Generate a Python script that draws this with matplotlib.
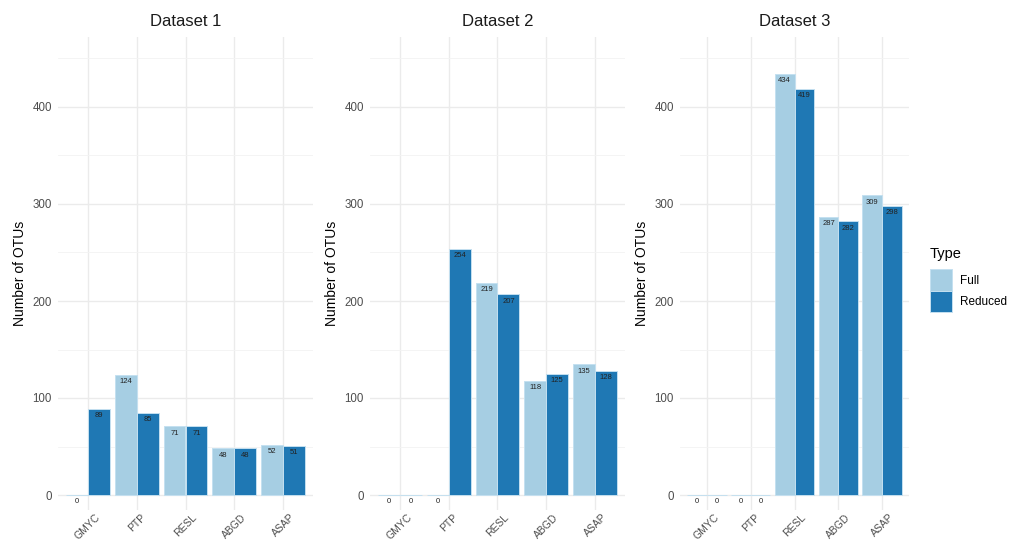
import matplotlib
matplotlib.use("Agg")
import matplotlib.pyplot as plt
from matplotlib.patches import Patch
import numpy as np

plt.rcParams["font.family"] = ["Liberation Sans", "DejaVu Sans"]

methods = ["GMYC", "PTP", "RESL", "ABGD", "ASAP"]
datasets = ["Dataset 1", "Dataset 2", "Dataset 3"]
types = ["Full", "Reduced"]

full_d1 = [0, 124, 71, 48, 52]
reduced_d1 = [89, 85, 71, 48, 51]
full_d2 = [0, 0, 219, 118, 135]
reduced_d2 = [0, 254, 207, 125, 128]
full_d3 = [0, 0, 434, 287, 309]
reduced_d3 = [0, 0, 419, 282, 298]

series = [(full_d1, reduced_d1), (full_d2, reduced_d2), (full_d3, reduced_d3)]
colors = {"Full": "#a6cee3", "Reduced": "#1f78b4"}
edge = "#c4e0f0"

W, H = 1018, 543
fig = plt.figure(figsize=(W / 100, H / 100), dpi=100)
fig.patch.set_facecolor("white")

# panel extents in pixels (left, right); shared vertical extent
panels_px = [(58, 313), (370, 625), (680, 909)]
top_px, bot_px = 37, 510
px_per_unit = 0.97
zero_px = 495
y_lo = -(bot_px - zero_px) / px_per_unit
y_hi = (zero_px - top_px) / px_per_unit

x = np.arange(len(methods))
bw = 0.45
for (l, r), name, (full, red) in zip(panels_px, datasets, series):
    ax = fig.add_axes([l / W, 1 - bot_px / H, (r - l) / W, (bot_px - top_px) / H])
    ax.set_xlim(-0.61, 4.61)
    ax.set_ylim(y_lo, y_hi)
    for s in ax.spines.values():
        s.set_visible(False)
    ax.set_yticks([0, 100, 200, 300, 400])
    ax.set_yticks([50, 150, 250, 350, 450], minor=True)
    ax.set_xticks(x)
    ax.grid(True, which="major", color="#ebebeb", lw=1.0)
    ax.grid(True, which="minor", axis="y", color="#f3f3f3", lw=0.6)
    ax.set_axisbelow(True)
    ax.tick_params(which="both", length=0)
    ax.tick_params(axis="y", labelsize=8.3, labelcolor="#4d4d4d", pad=4.3)
    ax.set_xticklabels(methods, rotation=45, ha="center", va="top",
                       fontsize=7.5, color="#4d4d4d")
    ax.tick_params(axis="x", pad=1.5)
    for off, vals, t in [(-bw / 2, full, "Full"), (bw / 2, red, "Reduced")]:
        ax.bar(x + off, vals, width=bw, color=colors[t],
               edgecolor=edge, linewidth=0.7, zorder=2)
        for xi, v in zip(x + off, vals):
            ax.annotate(f"{v}", (xi, v), xytext=(0, -2.5), textcoords="offset points",
                        ha="center", va="top", fontsize=5.5, color="#222222", zorder=3)
    ax.set_ylabel("Number of OTUs", fontsize=10, color="black", labelpad=4.3)
    ax.set_title(name, fontsize=12, color="#1a1a1a", pad=8)

handles = [Patch(facecolor=colors[t], edgecolor=edge, linewidth=0.7) for t in types]
leg = fig.legend(handles, types, title="Type", loc="upper left",
                 bbox_to_anchor=(930 / W, 1 - 247 / H), frameon=False,
                 fontsize=8.5, title_fontsize=10.5, handlelength=1.9, handleheight=2.4,
                 handletextpad=0.6, labelspacing=0.0, borderaxespad=0, borderpad=0)
leg._legend_box.align = "left"
leg._legend_box.sep = 6

fig.savefig("out.png", dpi=100, facecolor="white")
